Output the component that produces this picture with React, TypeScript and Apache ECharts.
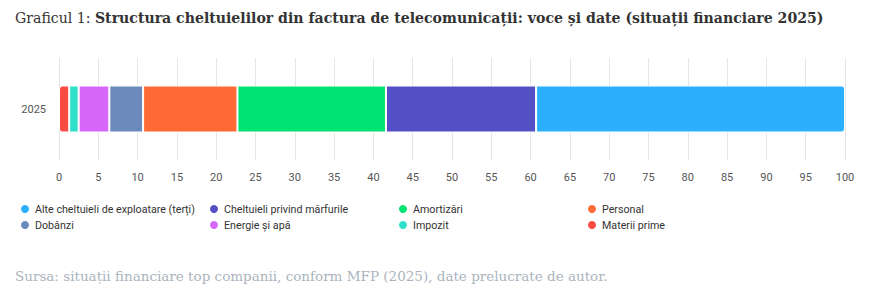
import React, { useEffect, useRef } from "react";
import * as echarts from "echarts";

const categories = ["2025"];
const seriesNames = [
  "Alte cheltuieli de exploatare (terți)",
  "Cheltuieli privind mărfurile",
  "Amortizări",
  "Personal",
  "Dobânzi",
  "Energie și apă",
  "Impozit",
  "Materii prime",
];
const seriesValues = [39.3, 19.1, 18.9, 12.0, 4.3, 3.9, 1.2, 1.3];
const seriesColors = ["#2caffe", "#544fc5", "#00e272", "#fe6a35", "#6b8abc", "#d568fb", "#2ee0ca", "#fa4b42"];
const axisMax = 100;
const axisInterval = 5;

const titlePrefix = "Graficul 1: ";
const titleMain = "Structura cheltuielilor din factura de telecomunicații: voce și date (situații financiare 2025)";
const sourceText = "Sursa: situații financiare top companii, conform MFP (2025), date prelucrate de autor.";

const sansFont = "Roboto, 'Noto Sans', sans-serif";
const serifFont = "'DejaVu Serif', serif";

export default function App() {
  const ref = useRef<HTMLDivElement>(null);
  useEffect(() => {
    if (!ref.current) return;
    const chart = echarts.init(ref.current, undefined, { renderer: "svg" });
    const n = seriesNames.length;
    const order = seriesNames.map((_, i) => n - 1 - i);
    const series = order.map((idx, k) => ({
      name: seriesNames[idx],
      type: "bar",
      stack: "total",
      barWidth: 47,
      data: [seriesValues[idx]],
      itemStyle: {
        color: seriesColors[idx],
        borderColor: "#ffffff",
        borderWidth: 1,
        borderRadius: k === 0 ? [3, 0, 0, 3] : k === n - 1 ? [0, 3, 3, 0] : 0,
      },
      emphasis: { disabled: true },
    }));
    const colX = [19, 208, 397, 586];
    const legends = seriesNames.map((name, i) => ({
      data: [name],
      left: colX[i % 4],
      top: 203 + Math.floor(i / 4) * 16,
      padding: 0,
      icon: "circle",
      itemWidth: 10,
      itemHeight: 10,
      itemGap: 5,
      selectedMode: false,
      textStyle: { fontFamily: sansFont, fontSize: 10.7, color: "#333333" },
    }));
    chart.setOption({
      animation: false,
      color: seriesColors,
      title: [
        {
          text: `{a|${titlePrefix}}{b|${titleMain}}`,
          left: 15,
          top: 11,
          padding: 0,
          textStyle: {
            rich: {
              a: { fontFamily: serifFont, fontSize: 14.1, color: "#333333", fontWeight: "normal" },
              b: { fontFamily: serifFont, fontSize: 14.1, color: "#333333", fontWeight: "bold" },
            },
          },
        },
        {
          text: sourceText,
          left: 15,
          top: 269,
          padding: 0,
          textStyle: { fontFamily: serifFont, fontSize: 13.5, color: "#aab4be", fontWeight: "normal" },
        },
      ],
      legend: legends,
      grid: { left: 59, right: 25, top: 58, height: 102, containLabel: false },
      xAxis: {
        type: "value",
        min: 0,
        max: axisMax,
        interval: axisInterval,
        axisLine: { show: false },
        axisTick: { show: false },
        splitLine: { lineStyle: { color: "#e6e6e6", width: 1 } },
        axisLabel: { fontFamily: sansFont, fontSize: 11, color: "#555555", margin: 12 },
      },
      yAxis: {
        type: "category",
        data: categories,
        axisLine: { show: false },
        axisTick: { show: false },
        axisLabel: { fontFamily: sansFont, fontSize: 11, color: "#555555", margin: 13 },
      },
      series,
    });
    return () => chart.dispose();
  }, []);
  return <div ref={ref} style={{ width: 870, height: 296, position: "absolute", left: 0, top: 0 }} />;
}
